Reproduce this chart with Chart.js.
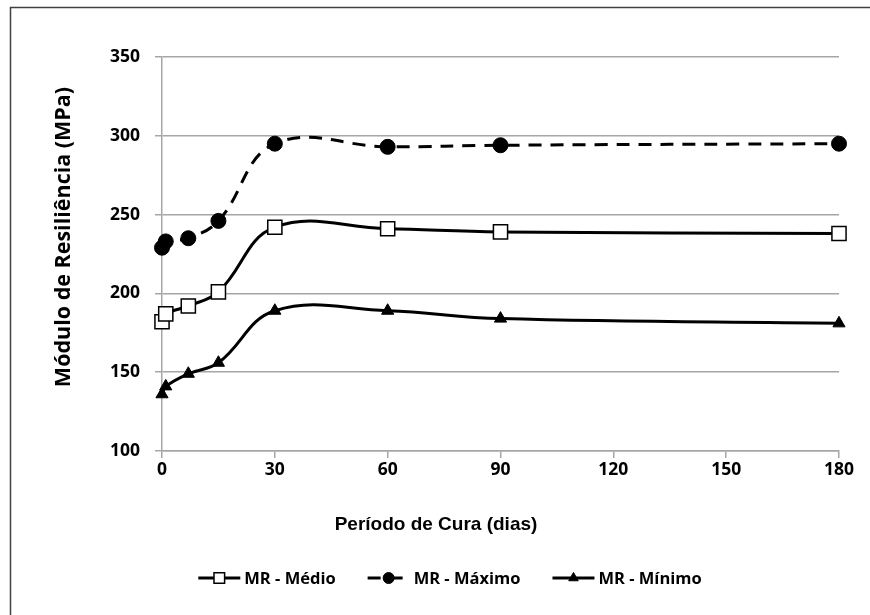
<!DOCTYPE html>
<html>
<head>
<meta charset="utf-8">
<script src="https://cdn.jsdelivr.net/npm/chart.js@4"></script>
<style>
  html, body { margin: 0; padding: 0; background: #fff; overflow: hidden; }
  #wrap { width: 870px; height: 615px; position: relative; }
</style>
</head>
<body>
<div id="wrap"><canvas id="myChart" width="870" height="615"></canvas></div>
<script>
// curing period (days)
const dias = [0, 1, 7, 15, 30, 60, 90, 180];
const mrMedio = [182, 187, 192, 201, 242, 241, 239, 238];
const mrMaximo = [229, 233, 235, 246, 295, 293, 294, 295];
const mrMinimo = [136, 141, 149, 156, 189, 189, 184, 181];
const xTicks = [0, 30, 60, 90, 120, 150, 180];
const yTicks = [100, 150, 200, 250, 300, 350];

const seriesNames = ['MR - Médio', 'MR - Máximo', 'MR - Mínimo'];
const gridGray = '#a6a6a6';
const labelFont = '"Open Sans", Lato, sans-serif';

function toPoints(values) {
    return dias.map((d, i) => ({ x: d, y: values[i] }));
}

// border, axis titles and the Excel-like legend (line + marker)
const decorPlugin = {
    id: 'decor',
    beforeDraw(chart) {
        const ctx = chart.ctx;
        ctx.save();
        ctx.fillStyle = '#fff';
        ctx.fillRect(0, 0, chart.width, chart.height);
        ctx.strokeStyle = '#404040';
        ctx.lineWidth = 1.5;
        ctx.strokeRect(10.5, 7.5, 900, 700);
        ctx.restore();
    },
    afterDraw(chart) {
        const ctx = chart.ctx;
        ctx.save();
        ctx.fillStyle = '#000';
        ctx.textAlign = 'center';
        ctx.textBaseline = 'middle';

        // x title
        ctx.font = 'bold 19px "Liberation Sans", Arial, sans-serif';
        ctx.fillText('Período de Cura (dias)', 436, 525);

        // y title
        ctx.translate(64, 237);
        ctx.rotate(-Math.PI / 2);
        ctx.font = 'bold 21.5px ' + labelFont;
        ctx.fillText('Módulo de Resiliência (MPa)', 0, 0);
        ctx.restore();

        // legend
        ctx.save();
        ctx.font = 'bold 16.5px ' + labelFont;
        ctx.textBaseline = 'middle';
        const lineLen = 42, gapText = 4, gapItem = 32, ly = 578;
        const widths = seriesNames.map(n => lineLen + gapText + ctx.measureText(n).width);
        const total = widths.reduce((a, b) => a + b, 0) + gapItem * (widths.length - 1);
        let x = 450 - total / 2;
        chart.data.datasets.forEach((ds, i) => {
            ctx.strokeStyle = '#000';
            ctx.lineWidth = 3;
            ctx.setLineDash(ds.borderDash || []);
            ctx.beginPath();
            ctx.moveTo(x, ly);
            ctx.lineTo(x + lineLen, ly);
            ctx.stroke();
            ctx.setLineDash([]);
            ctx.fillStyle = ds.pointBackgroundColor;
            ctx.strokeStyle = '#000';
            ctx.lineWidth = ds.pointBorderWidth;
            Chart.helpers.drawPoint(ctx, {
                pointStyle: ds.pointStyle,
                radius: ds.legendRadius,
                borderWidth: ds.pointBorderWidth
            }, x + lineLen / 2, ly);
            ctx.fillStyle = '#000';
            ctx.textAlign = 'left';
            ctx.fillText(seriesNames[i], x + lineLen + gapText, ly + 1);
            x += widths[i] + gapItem;
        });
        ctx.restore();
    }
};

const ctx = document.getElementById('myChart').getContext('2d');
new Chart(ctx, {
    type: 'line',
    data: {
        datasets: [
            {
                label: seriesNames[0],
                data: toPoints(mrMedio),
                borderColor: '#000',
                borderWidth: 3,
                tension: 0.4,
                clip: false,
                pointStyle: 'rect',
                pointRadius: 10,
                legendRadius: 7.5,
                pointBorderWidth: 1.5,
                pointBackgroundColor: '#fff',
                pointBorderColor: '#000'
            },
            {
                label: seriesNames[1],
                data: toPoints(mrMaximo),
                borderColor: '#000',
                borderWidth: 3,
                borderDash: [13, 9],
                tension: 0.4,
                clip: false,
                pointStyle: 'circle',
                pointRadius: 7.5,
                legendRadius: 5.5,
                pointBorderWidth: 1,
                pointBackgroundColor: '#000',
                pointBorderColor: '#000'
            },
            {
                label: seriesNames[2],
                data: toPoints(mrMinimo),
                borderColor: '#000',
                borderWidth: 3,
                tension: 0.4,
                clip: false,
                pointStyle: 'triangle',
                pointRadius: 7,
                legendRadius: 5.5,
                pointBorderWidth: 1,
                pointBackgroundColor: '#000',
                pointBorderColor: '#000'
            }
        ]
    },
    options: {
        responsive: false,
        animation: false,
        layout: { padding: { left: 0, top: 57, right: 31, bottom: 0 } },
        plugins: {
            legend: { display: false },
            tooltip: { enabled: false }
        },
        scales: {
            x: {
                type: 'linear',
                min: 0,
                max: 180,
                afterFit: scale => { scale.height = 615 - 451; },
                afterBuildTicks: scale => { scale.ticks = xTicks.map(v => ({ value: v })); },
                grid: { drawOnChartArea: false, drawTicks: true, tickLength: 7, color: gridGray, lineWidth: 1.5 },
                border: { color: gridGray, width: 1.5 },
                ticks: { color: '#000', padding: 2, font: { family: labelFont, weight: 'bold', size: 17.5 } }
            },
            y: {
                min: 100,
                max: 350,
                afterFit: scale => { scale.width = 162; },
                afterBuildTicks: scale => { scale.ticks = yTicks.map(v => ({ value: v })); },
                grid: { drawTicks: true, tickLength: 7, color: gridGray, lineWidth: 1.5 },
                border: { color: gridGray, width: 1.5 },
                ticks: { color: '#000', padding: 15, font: { family: labelFont, weight: 'bold', size: 17.5 } }
            }
        }
    },
    plugins: [decorPlugin]
});
</script>
</body>
</html>
